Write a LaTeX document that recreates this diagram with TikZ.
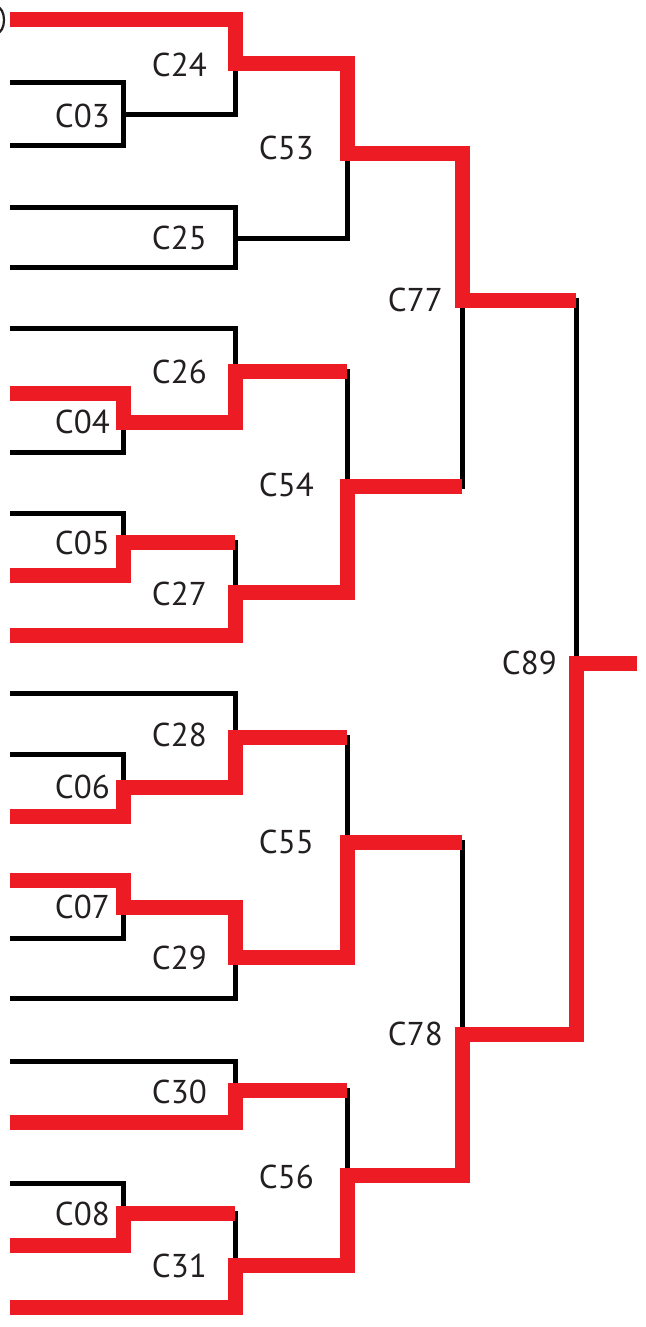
\documentclass[tikz,border=0pt]{standalone}
\usepackage{fontspec}
\setmainfont{PT Sans}
\definecolor{pathred}{HTML}{ED1C24}
\definecolor{labelgray}{HTML}{231F20}
\tikzset{
  branch/.style={line width=5pt,black,line join=miter},
  hilite/.style={line width=15pt,pathred,line join=miter},
  clabel/.style={anchor=east,inner sep=0pt,text=labelgray,font=\fontsize{33}{33}\selectfont}
}
\begin{document}
\begin{tikzpicture}[x=1pt,y=-1pt]

    \useasboundingbox (0,0) rectangle (645,1327);

    % Leaf tips on the left
    \coordinate (l1) at (10,20);    \coordinate (l2) at (10,83);
    \coordinate (l3) at (10,145);   \coordinate (l4) at (10,207);
    \coordinate (l5) at (10,267);   \coordinate (l6) at (10,328);
    \coordinate (l7) at (10,393);   \coordinate (l8) at (10,452);
    \coordinate (l9) at (10,513);   \coordinate (l10) at (10,575);
    \coordinate (l11) at (10,635);  \coordinate (l12) at (10,693);
    \coordinate (l13) at (10,754);  \coordinate (l14) at (10,816);
    \coordinate (l15) at (10,880);  \coordinate (l16) at (10,938);
    \coordinate (l17) at (10,998);  \coordinate (l18) at (10,1061);
    \coordinate (l19) at (10,1122); \coordinate (l20) at (10,1183);
    \coordinate (l21) at (10,1245); \coordinate (l22) at (10,1307);

    % Merge points of the clusters
    \coordinate (n03) at (123,115); \coordinate (n24) at (235,64);
    \coordinate (n25) at (235,238); \coordinate (n53) at (347,153);
    \coordinate (n04) at (123,422); \coordinate (n26) at (235,371);
    \coordinate (n05) at (123,542); \coordinate (n27) at (235,592);
    \coordinate (n54) at (347,486); \coordinate (n77) at (462,300);
    \coordinate (n06) at (123,787); \coordinate (n28) at (235,737);
    \coordinate (n07) at (123,907); \coordinate (n29) at (235,957);
    \coordinate (n55) at (347,842); \coordinate (n30) at (235,1090);
    \coordinate (n08) at (123,1213); \coordinate (n31) at (235,1265);
    \coordinate (n56) at (347,1175); \coordinate (n78) at (462,1034);
    \coordinate (n89) at (576,663); \coordinate (root) at (637,663);

    % Cut-off glyph at the top left corner
    \draw[labelgray,line width=2.2pt] (-3,7) arc[start angle=-90,end angle=90,x radius=7,y radius=13];

    % Draw the whole tree in black
    \draw[branch] (l1) -| (n24) (n03) -| (n24);
    \draw[branch] (l2) -| (n03) (l3) -| (n03);
    \draw[branch] (l4) -| (n25) (l5) -| (n25);
    \draw[branch] (n24) -| (n53) (n25) -| (n53);
    \draw[branch] (l6) -| (n26) (n04) -| (n26);
    \draw[branch] (l7) -| (n04) (l8) -| (n04);
    \draw[branch] (l9) -| (n05) (l10) -| (n05);
    \draw[branch] (n05) -| (n27) (l11) -| (n27);
    \draw[branch] (n26) -| (n54) (n27) -| (n54);
    \draw[branch] (n53) -| (n77) (n54) -| (n77);
    \draw[branch] (l12) -| (n28) (n06) -| (n28);
    \draw[branch] (l13) -| (n06) (l14) -| (n06);
    \draw[branch] (l15) -| (n07) (l16) -| (n07);
    \draw[branch] (n07) -| (n29) (l17) -| (n29);
    \draw[branch] (n28) -| (n55) (n29) -| (n55);
    \draw[branch] (l18) -| (n30) (l19) -| (n30);
    \draw[branch] (l20) -| (n08) (l21) -| (n08);
    \draw[branch] (n08) -| (n31) (l22) -| (n31);
    \draw[branch] (n30) -| (n56) (n31) -| (n56);
    \draw[branch] (n55) -| (n78) (n56) -| (n78);
    \draw[branch] (n77) -| (n89) (n78) -| (n89) -- (root);

    % Highlight the chosen paths in red
    \draw[hilite] (l1) -| (n24) -| (n53) -| (n77) -- (n77 -| n89);
    \draw[hilite] (l7) -| (n04) -| (n26) -- (n26 -| n54);
    \draw[hilite] (l10) -| (n05) -- (n05 -| n27);
    \draw[hilite] (l11) -| (n27) -| (n54) -- (n54 -| n77);
    \draw[hilite] (l14) -| (n06) -| (n28) -- (n28 -| n55);
    \draw[hilite] (l15) -| (n07) -| (n29) -| (n55) -- (n55 -| n78);
    \draw[hilite] (l19) -| (n30) -- (n30 -| n56);
    \draw[hilite] (l21) -| (n08) -- (n08 -| n31);
    \draw[hilite] (l22) -| (n31) -| (n56) -| (n78) -| (n89) -- (root);

    % Cluster names
    \node[clabel] (t03) at (110,116) {C03};
    \node[clabel] (t04) at (110,422) {C04};
    \node[clabel] (t05) at (110,543) {C05};
    \node[clabel] (t06) at (110,787) {C06};
    \node[clabel] (t07) at (110,907) {C07};
    \node[clabel] (t08) at (110,1214) {C08};
    \node[clabel] (t24) at (207,65) {C24};
    \node[clabel] (t25) at (207,238) {C25};
    \node[clabel] (t26) at (207,372) {C26};
    \node[clabel] (t27) at (207,594) {C27};
    \node[clabel] (t28) at (207,735) {C28};
    \node[clabel] (t29) at (207,958) {C29};
    \node[clabel] (t30) at (207,1092) {C30};
    \node[clabel] (t31) at (207,1266) {C31};
    \node[clabel] (t53) at (314,148) {C53};
    \node[clabel] (t54) at (314,485) {C54};
    \node[clabel] (t55) at (314,842) {C55};
    \node[clabel] (t56) at (314,1177) {C56};
    \node[clabel] (t77) at (443,300) {C77};
    \node[clabel] (t78) at (443,1034) {C78};
    \node[clabel] (t89) at (557,663) {C89};

\end{tikzpicture}
\end{document}
